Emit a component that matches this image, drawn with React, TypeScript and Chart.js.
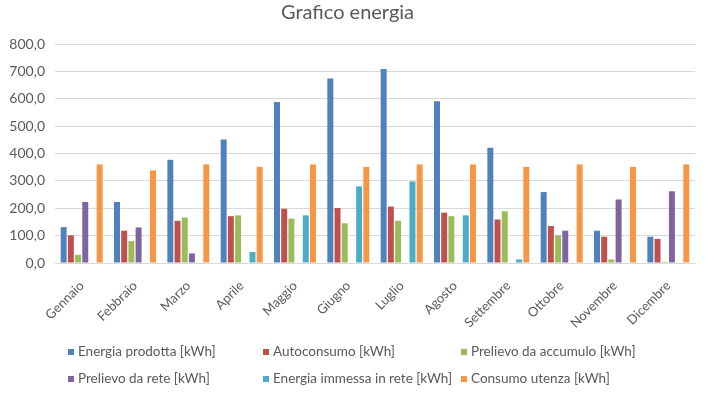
import React, { useEffect, useRef } from "react";
import { Chart, registerables } from "chart.js";

Chart.register(...registerables);

const months = ["Gennaio", "Febbraio", "Marzo", "Aprile", "Maggio", "Giugno", "Luglio", "Agosto", "Settembre", "Ottobre", "Novembre", "Dicembre"];

const energiaProdotta = [131, 223, 377, 451, 588, 674, 709, 591, 421, 259, 118, 96];
const autoconsumo = [101, 118, 154, 171, 198, 201, 206, 184, 159, 135, 96, 88];
const prelievoAccumulo = [30, 80, 166, 174, 162, 145, 154, 171, 189, 101, 13, 4];
const prelievoRete = [223, 130, 35, null, null, null, null, null, null, 118, 232, 262];
const energiaImmessa = [null, null, null, 40, 174, 280, 298, 174, 13, null, null, null];
const consumoUtenza = [360, 338, 360, 351, 360, 351, 360, 360, 351, 360, 351, 360];

const seriesNames = [
  "Energia prodotta [kWh]",
  "Autoconsumo [kWh]",
  "Prelievo da accumulo [kWh]",
  "Prelievo da rete [kWh]",
  "Energia immessa in rete [kWh]",
  "Consumo utenza [kWh]",
];
const seriesColors = ["#4F81BD", "#C0504D", "#9BBB59", "#8064A2", "#4BACC6", "#F79646"];
const seriesData = [energiaProdotta, autoconsumo, prelievoAccumulo, prelievoRete, energiaImmessa, consumoUtenza];

const FONT = "Lato, 'Open Sans', sans-serif";
const TEXT = "#595959";

const gridLegend = {
  id: "gridLegend",
  afterDraw(chart: any) {
    const ctx = chart.ctx;
    const cols = [68, 263, 461];
    const rows = [352, 379];
    ctx.save();
    ctx.font = `13.5px ${FONT}`;
    ctx.fillStyle = TEXT;
    ctx.textBaseline = "middle";
    ctx.textAlign = "left";
    chart.data.datasets.forEach((ds: any, i: number) => {
      const x = cols[i % 3];
      const y = rows[Math.floor(i / 3)];
      ctx.fillStyle = ds.backgroundColor;
      ctx.fillRect(x, y - 3, 6, 6);
      ctx.fillStyle = TEXT;
      ctx.fillText(ds.label, x + 10, y);
    });
    ctx.restore();
  },
};

export default function App() {
  const ref = useRef<HTMLCanvasElement>(null);
  useEffect(() => {
    document.body.style.margin = "0";
    const chart = new Chart(ref.current!, {
      type: "bar",
      data: {
        labels: months,
        datasets: seriesNames.map((name, i) => ({
          label: name,
          data: seriesData[i],
          backgroundColor: seriesColors[i],
          borderWidth: 0,
          barPercentage: 0.83,
          categoryPercentage: 0.81,
        })),
      },
      options: {
        responsive: false,
        animation: false,
        devicePixelRatio: 1,
        layout: { padding: { left: 0, right: 23, top: 0, bottom: 0 } },
        plugins: {
          legend: { display: false },
          tooltip: { enabled: false },
          title: {
            display: true,
            text: "Grafico energia",
            color: TEXT,
            font: { family: FONT, size: 20, weight: "normal" },
            padding: { top: 1, bottom: 19 },
          },
        },
        scales: {
          x: {
            grid: { display: false },
            border: { display: true, color: "#d9d9d9" },
            ticks: {
              color: TEXT,
              font: { family: FONT, size: 13 },
              minRotation: 45,
              maxRotation: 45,
              autoSkip: false,
              padding: 7,
            },
            afterFit(scale: any) {
              scale.height = 134;
            },
          },
          y: {
            min: 0,
            max: 800,
            grid: { color: "#d9d9d9", drawTicks: false },
            border: { display: false },
            ticks: {
              stepSize: 100,
              color: TEXT,
              font: { family: FONT, size: 14 },
              padding: 10,
              callback: (v: any) => Number(v).toFixed(1).replace(".", ","),
            },
            afterFit(scale: any) {
              scale.width = 55;
            },
          },
        },
      },
      plugins: [gridLegend],
    });
    return () => chart.destroy();
  }, []);
  return (
    <div style={{ position: "fixed", left: 0, top: 0, width: 718, height: 397, background: "#fff" }}>
      <canvas ref={ref} width={718} height={397} />
    </div>
  );
}
